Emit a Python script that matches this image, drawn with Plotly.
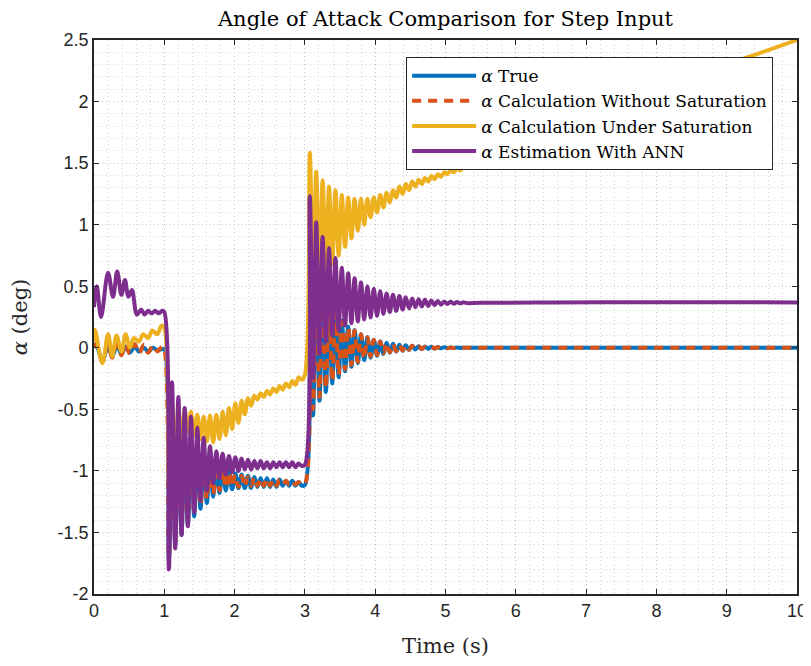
import plotly.graph_objects as go

# ---------------- data ----------------
# Segment A: 0 .. 1 s (each series has its own sample times)
TA_TRUE = [0.0, 0.03, 0.12, 0.2, 0.26, 0.33, 0.39, 0.45, 0.51, 0.58, 0.64, 0.71, 0.77, 0.84, 0.9, 0.97, 1.0]
A_TRUE = [0.0, 0.03, -0.11, 0.02, -0.07, 0.02, -0.05, 0.01, -0.04, 0.01, -0.03, 0.0, -0.03, 0.0, -0.02, -0.01, -0.01]
A_NOSAT = [0.0, 0.03, -0.11, 0.03, -0.08, 0.03, -0.06, 0.03, -0.05, 0.03, -0.045, 0.025, -0.04, 0.02, -0.03, 0.01, -0.01]

TA_SAT = [0.0, 0.014, 0.12, 0.2, 0.26, 0.32, 0.39, 0.45, 0.51, 0.57, 0.64, 0.7, 0.77, 0.83, 0.9, 0.96, 1.0]
A_SAT = [0.05, 0.145, -0.125, 0.11, -0.07, 0.10, -0.03, 0.11, 0.0, 0.08, 0.05, 0.11, 0.08, 0.14, 0.11, 0.18, 0.16]

TA_ANN = [0.0, 0.04, 0.1, 0.2, 0.27, 0.33, 0.39, 0.44, 0.49, 0.54, 0.61, 0.67, 0.72, 0.77, 0.82, 0.87, 0.92, 0.97, 1.0]
A_ANN = [0.33, 0.50, 0.25, 0.61, 0.415, 0.62, 0.43, 0.55, 0.415, 0.47, 0.27, 0.31, 0.27, 0.30, 0.28, 0.30, 0.28, 0.30, 0.29]

# Segment B: after the step at 1 s (shared sample times at the extrema)
TB = [1.065, 1.11, 1.155, 1.2, 1.245, 1.29, 1.335, 1.38, 1.425, 1.47, 1.515, 1.56, 1.605, 1.65,
      1.695, 1.74, 1.785, 1.83, 1.875, 1.92, 1.965, 2.01, 2.055, 2.1, 2.145, 2.19, 2.235, 2.28,
      2.325, 2.37, 2.415, 2.46, 2.505, 2.55, 2.595, 2.64, 2.685, 2.73, 2.775, 2.82, 2.865, 2.91, 2.955]
B_TRUE = [-1.72, -0.50, -1.60, -0.60, -1.52, -0.68, -1.44, -0.75, -1.37, -0.81, -1.31, -0.87, -1.26, -0.92,
          -1.21, -0.95, -1.18, -0.98, -1.16, -1.00, -1.15, -1.02, -1.14, -1.03, -1.14, -1.04, -1.14, -1.05,
          -1.13, -1.06, -1.13, -1.06, -1.13, -1.07, -1.13, -1.07, -1.12, -1.08, -1.12, -1.08, -1.12, -1.09, -1.12]
B_NOSAT = [-1.70, -0.52, -1.57, -0.62, -1.48, -0.70, -1.40, -0.77, -1.33, -0.83, -1.28, -0.88, -1.23, -0.93,
           -1.19, -0.96, -1.16, -0.99, -1.14, -1.01, -1.13, -1.03, -1.13, -1.04, -1.13, -1.05, -1.12, -1.05,
           -1.12, -1.06, -1.12, -1.06, -1.12, -1.07, -1.12, -1.07, -1.11, -1.08, -1.11, -1.08, -1.11, -1.09, -1.11]
B_SAT = [-1.10, -0.45, -0.92, -0.48, -0.80, -0.50, -0.68, -0.52, -0.71, -0.545, -0.74, -0.56, -0.76, -0.55,
         -0.77, -0.545, -0.74, -0.52, -0.71, -0.49, -0.66, -0.45, -0.61, -0.43, -0.54, -0.41, -0.47, -0.39,
         -0.42, -0.37, -0.40, -0.35, -0.38, -0.33, -0.36, -0.31, -0.34, -0.29, -0.32, -0.27, -0.30, -0.24, -0.26]
B_ANN = [-1.80, -0.28, -1.63, -0.40, -1.52, -0.49, -1.45, -0.56, -1.34, -0.65, -1.24, -0.73, -1.16, -0.80,
         -1.10, -0.84, -1.06, -0.86, -1.03, -0.88, -1.01, -0.89, -1.00, -0.90, -0.99, -0.91, -0.99, -0.92,
         -0.98, -0.92, -0.98, -0.93, -0.98, -0.93, -0.97, -0.93, -0.97, -0.93, -0.97, -0.93, -0.97, -0.94, -0.96]

# Value just before the second step at 3 s
T_STEP2 = 3.0
PRE_TRUE, PRE_NOSAT, PRE_SAT, PRE_ANN = -1.115, -1.11, -0.22, -0.95

# Segment C: after the step at 3 s
TC = [3.070, 3.116, 3.161, 3.207, 3.252, 3.298, 3.343, 3.389, 3.434, 3.480, 3.525, 3.571, 3.616,
      3.662, 3.707, 3.753, 3.798, 3.844, 3.889, 3.935, 3.980, 4.026, 4.071, 4.117, 4.162, 4.208,
      4.253, 4.299, 4.344, 4.390, 4.435, 4.481, 4.526, 4.572, 4.617, 4.663, 4.708, 4.754, 4.799,
      4.845, 4.890, 4.936, 4.981, 5.027, 5.072, 5.118, 5.163, 5.209, 5.254, 5.300]
C_TRUE = [0.80, -0.55, 0.60, -0.43, 0.47, -0.36, 0.37, -0.29, 0.29, -0.24, 0.22, -0.19, 0.17,
          -0.155, 0.145, -0.125, 0.11, -0.10, 0.085, -0.08, 0.065, -0.065, 0.05, -0.05, 0.04, -0.04,
          0.032, -0.03, 0.025, -0.024, 0.02, -0.018, 0.016, -0.014, 0.012, -0.011, 0.01, -0.008, 0.008,
          -0.006, 0.006, -0.004, 0.004, -0.003, 0.003, -0.002, 0.002, -0.001, 0.001, 0.0]
C_NOSAT = [0.78, -0.50, 0.58, -0.40, 0.45, -0.33, 0.36, -0.27, 0.28, -0.22, 0.21, -0.175, 0.165,
           -0.14, 0.14, -0.115, 0.11, -0.09, 0.085, -0.072, 0.066, -0.058, 0.052, -0.045, 0.041, -0.036,
           0.033, -0.028, 0.026, -0.022, 0.021, -0.017, 0.016, -0.013, 0.012, -0.010, 0.009, -0.008, 0.007,
           -0.006, 0.005, -0.004, 0.004, -0.003, 0.003, -0.002, 0.002, -0.001, 0.001, 0.0]
C_SAT = [1.585, 0.45, 1.43, 0.55, 1.36, 0.62, 1.31, 0.68, 1.28, 0.75, 1.24, 0.82, 1.22,
         0.89, 1.21, 0.95, 1.21, 1.00, 1.21, 1.06, 1.22, 1.10, 1.24, 1.14, 1.26, 1.18,
         1.28, 1.22, 1.31, 1.25, 1.33, 1.28, 1.35, 1.31, 1.365, 1.33, 1.38, 1.35, 1.395,
         1.37, 1.41, 1.39, 1.425, 1.41, 1.44, 1.425, 1.455, 1.44, 1.47, 1.46]
C_ANN = [1.23, -0.25, 1.02, -0.05, 0.90, 0.05, 0.81, 0.10, 0.73, 0.14, 0.65, 0.18, 0.605,
         0.20, 0.565, 0.215, 0.53, 0.23, 0.50, 0.245, 0.48, 0.26, 0.46, 0.275, 0.44, 0.29,
         0.43, 0.30, 0.42, 0.31, 0.41, 0.32, 0.40, 0.33, 0.395, 0.335, 0.39, 0.34, 0.385,
         0.345, 0.38, 0.35, 0.376, 0.355, 0.373, 0.358, 0.371, 0.361, 0.369, 0.363]

# Tail: settled part up to 10 s
TD_TRUE = [5.5, 10.0]
D_TRUE = [0.0, 0.0]
D_NOSAT = [0.0, 0.0]
TD_SAT = [5.5, 6.0, 7.0, 8.0, 9.0, 9.5, 10.0]
D_SAT = [1.51, 1.61, 1.84, 2.07, 2.30, 2.40, 2.50]
TD_ANN = [5.5, 6.5, 8.0, 9.0, 10.0]
D_ANN = [0.365, 0.368, 0.37, 0.37, 0.368]

NAMES = ["<i>α</i> True", "<i>α</i> Calculation Without Saturation",
         "<i>α</i> Calculation Under Saturation", "<i>α</i> Estimation With ANN"]
COLORS = ["#0072BD", "#D95319", "#EDB120", "#7E2F8E"]

X_TICKS = [0, 1, 2, 3, 4, 5, 6, 7, 8, 9, 10]
X_TICK_LABELS = ["0", "1", "2", "3", "4", "5", "6", "7", "8", "9", "10"]
Y_TICKS = [-2, -1.5, -1, -0.5, 0, 0.5, 1, 1.5, 2, 2.5]
Y_TICK_LABELS = ["-2", "-1.5", "-1", "-0.5", "0", "0.5", "1", "1.5", "2", "2.5"]

TITLE = "Angle of Attack Comparison for Step Input"
X_LABEL = "Time (s)"
Y_LABEL = "<i>α</i> (deg)"

# ---------------- assemble series ----------------
def build(ta, a, b, pre, c, td, d):
    t = list(ta) + list(TB) + [T_STEP2] + list(TC) + list(td)
    v = list(a) + list(b) + [pre] + list(c) + list(d)
    return t, v

series = [
    build(TA_TRUE, A_TRUE, B_TRUE, PRE_TRUE, C_TRUE, TD_TRUE, D_TRUE),
    build(TA_TRUE, A_NOSAT, B_NOSAT, PRE_NOSAT, C_NOSAT, TD_TRUE, D_NOSAT),
    build(TA_SAT, A_SAT, B_SAT, PRE_SAT, C_SAT, TD_SAT, D_SAT),
    build(TA_ANN, A_ANN, B_ANN, PRE_ANN, C_ANN, TD_ANN, D_ANN),
]
dashes = ["solid", "9px,7px", "solid", "solid"]

SERIF = "DejaVu Serif, serif"

fig = go.Figure()
for (t, v), name, col, dash in zip(series, NAMES, COLORS, dashes):
    fig.add_trace(go.Scatter(x=t, y=v, mode="lines", name=name,
                             line=dict(color=col, width=4, dash=dash,
                                       shape="spline", smoothing=1.0)))

axis_common = dict(
    showline=True, linecolor="#262626", linewidth=1.6, mirror="ticks",
    ticks="inside", ticklen=5, tickwidth=1.4, tickcolor="#262626",
    showgrid=True, gridcolor="#c4c4c4", gridwidth=1, griddash="1px,3px",
    zeroline=False, automargin=False,
    tickfont=dict(family="Liberation Sans, Arial, sans-serif", size=18, color="#262626"),
)

fig.update_xaxes(range=[0, 10], tickvals=X_TICKS, ticktext=X_TICK_LABELS,
                 minor=dict(dtick=0.2, showgrid=True, gridcolor="#d4d4d4", griddash="1px,3px", gridwidth=1),
                 title=dict(text=X_LABEL, standoff=18,
                            font=dict(family=SERIF, size=21, color="#262626")),
                 **axis_common)
fig.update_yaxes(range=[-2, 2.5], tickvals=Y_TICKS, ticktext=Y_TICK_LABELS,
                 minor=dict(dtick=0.1, showgrid=True, gridcolor="#d4d4d4", griddash="1px,3px", gridwidth=1),
                 title=dict(text=Y_LABEL, standoff=27,
                            font=dict(family=SERIF, size=21, color="#262626")),
                 **axis_common)

fig.update_layout(
    width=803, height=650, autosize=False,
    margin=dict(l=86, r=14, t=32, b=64),
    plot_bgcolor="white", paper_bgcolor="white",
    title=dict(text=TITLE, x=0.5, xref="paper", xanchor="center",
               y=1 - 11 / 650, yref="container", yanchor="middle",
               font=dict(family=SERIF, size=21, color="#000000")),
    legend=dict(x=0.444, y=0.969, xanchor="left", yanchor="top",
                bgcolor="white", bordercolor="#262626", borderwidth=1,
                font=dict(family=SERIF, size=17, color="#000000"),
                itemwidth=64, tracegroupgap=0),
    showlegend=True,
)

fig.write_html("out.html")
